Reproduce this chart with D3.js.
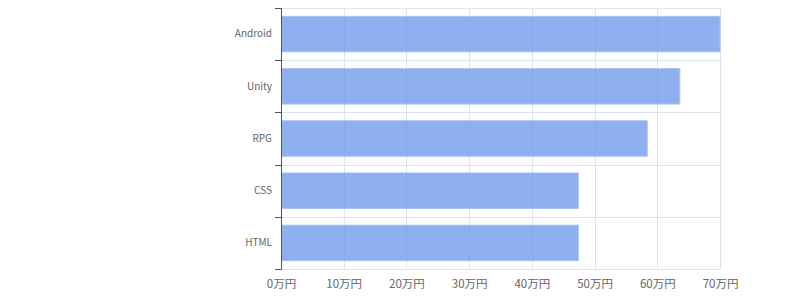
<!DOCTYPE html>
<html>
<head>
<meta charset="utf-8">
<script src="https://cdn.jsdelivr.net/npm/d3@7"></script>
<style>
  body { margin: 0; background: #fff; }
  text { font-family: "Noto Sans CJK JP", "Noto Sans", sans-serif; }
</style>
</head>
<body>
<div id="chart"></div>
<script>
"use strict";

// categories top to bottom, values in 万円
var categories = ["Android", "Unity", "RPG", "CSS", "HTML"];
var values = [70, 63.6, 58.4, 47.4, 47.4];
var xTicks = [0, 10, 20, 30, 40, 50, 60, 70];

var margin = { top: 8, right: 80, bottom: 31, left: 281 },
    width = 800 - margin.left - margin.right,
    height = 300 - margin.top - margin.bottom;

var svg = d3.select("#chart")
            .append("svg")
            .attr("width", 800)
            .attr("height", 300)
            .append("g")
            .attr("transform", "translate(" + margin.left + "," + margin.top + ")");

var x = d3.scaleLinear().domain([0, 70]).range([0, width]);
var y = d3.scaleBand().domain(categories).range([0, height])
          .paddingInner(0.32).paddingOuter(0.16);
var step = y.step();

// grid
var grid = svg.append("g");
grid.selectAll("line.v")
    .data(xTicks)
    .enter()
    .append("line")
    .attr("x1", function(d) { return Math.round(x(d)) + 0.5; })
    .attr("x2", function(d) { return Math.round(x(d)) + 0.5; })
    .attr("y1", 0)
    .attr("y2", height)
    .attr("stroke", "#dde3ef");

var bounds = d3.range(categories.length + 1);
grid.selectAll("line.h")
    .data(bounds)
    .enter()
    .append("line")
    .attr("x1", 0)
    .attr("x2", width)
    .attr("y1", function(d) { return Math.round(d * step) + 0.5; })
    .attr("y2", function(d) { return Math.round(d * step) + 0.5; })
    .attr("stroke", "#dde3ef");

// bars
svg.selectAll("rect.bar")
   .data(categories)
   .enter()
   .append("rect")
   .attr("class", "bar")
   .attr("x", 0.5)
   .attr("y", function(d) { return y(d); })
   .attr("width", function(d, i) { return x(values[i]) - 0.5; })
   .attr("height", y.bandwidth())
   .attr("fill", "#6a96ea")
   .attr("fill-opacity", 0.75)
   .attr("stroke", "#a9c2f3")
   .attr("stroke-width", 1);

// y axis
var yAxis = d3.axisLeft(y).tickSize(0).tickPadding(9);
var gy = svg.append("g").call(yAxis);
gy.select(".domain").remove();
gy.selectAll("text").attr("fill", "#666").style("font-size", "10px");

svg.append("line")
   .attr("x1", 0.5).attr("x2", 0.5)
   .attr("y1", 0).attr("y2", height + 0.5)
   .attr("stroke", "#555");
svg.selectAll("line.ytick")
   .data(bounds)
   .enter()
   .append("line")
   .attr("x1", -6).attr("x2", 0.5)
   .attr("y1", function(d) { return Math.round(d * step) + 0.5; })
   .attr("y2", function(d) { return Math.round(d * step) + 0.5; })
   .attr("stroke", "#555");

// x axis
var xAxis = d3.axisBottom(x).tickValues(xTicks).tickSize(0).tickPadding(11)
              .tickFormat(function(d) { return d + "万円"; });
var gx = svg.append("g").attr("transform", "translate(0," + height + ")").call(xAxis);
gx.select(".domain").remove();
gx.selectAll("text").attr("fill", "#666").style("font-size", "11.5px");
</script>
</body>
</html>
